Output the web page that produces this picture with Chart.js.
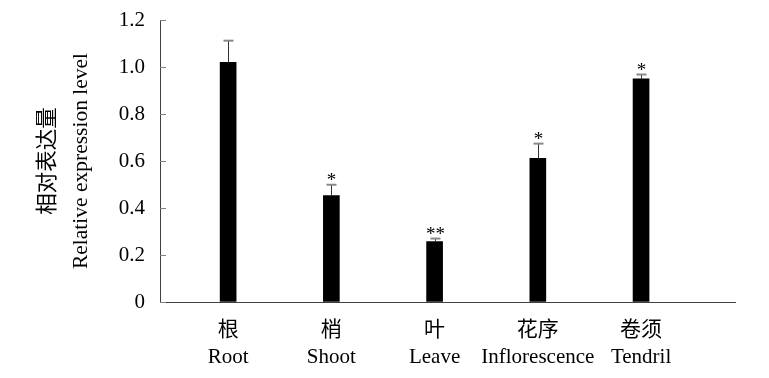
<!DOCTYPE html>
<html>
<head>
<meta charset="utf-8">
<script src="https://cdn.jsdelivr.net/npm/chart.js@4/dist/chart.umd.min.js"></script>
<style>
  html, body { margin: 0; padding: 0; background: #fff; }
  canvas { display: block; }
</style>
</head>
<body>
<canvas id="expressionChart" width="769" height="378"></canvas>
<script>
// Dữ liệu biểu đồ
const labelsCn = ['根', '梢', '叶', '花序', '卷须'];
const labelsEn = ['Root', 'Shoot', 'Leave', 'Inflorescence', 'Tendril'];
const positions = [0, 1, 2, 3, 4];
const values = [1.02, 0.453, 0.257, 0.611, 0.95];
const errors = [0.092, 0.046, 0.013, 0.063, 0.018];
const marks = ['', '*', '**', '*', '*'];
const yTicks = [0, 0.2, 0.4, 0.6, 0.8, 1.0, 1.2];

const serif = "'Liberation Serif', 'Times New Roman', 'Noto Sans CJK SC', serif";

// Vẽ thanh sai số, dấu sao và vạch chia trục y
const extrasPlugin = {
    id: 'extras',
    afterDatasetsDraw(chart) {
        const ctx = chart.ctx;
        const xs = chart.scales.x;
        const ys = chart.scales.y;
        ctx.save();
        // vạch chia trục y (hướng vào trong)
        ctx.strokeStyle = '#808080';
        ctx.lineWidth = 1;
        yTicks.forEach(v => {
            const py = Math.round(ys.getPixelForValue(v)) + 0.5;
            ctx.beginPath();
            ctx.moveTo(xs.left, py);
            ctx.lineTo(xs.left + 6, py);
            ctx.stroke();
        });
        positions.forEach((p, i) => {
            const px = Math.round(xs.getPixelForValue(p)) + 0.5;
            const top = ys.getPixelForValue(values[i]);
            const errTop = ys.getPixelForValue(values[i] + errors[i]);
            ctx.strokeStyle = '#333';
            ctx.lineWidth = 1;
            ctx.beginPath();
            ctx.moveTo(px, top);
            ctx.lineTo(px, errTop);
            ctx.stroke();
            ctx.strokeStyle = '#888';
            ctx.lineWidth = 2;
            ctx.beginPath();
            ctx.moveTo(px - 5, errTop);
            ctx.lineTo(px + 5, errTop);
            ctx.stroke();
            if (marks[i]) {
                ctx.fillStyle = '#000';
                ctx.font = '19px ' + serif;
                ctx.textAlign = 'center';
                ctx.textBaseline = 'alphabetic';
                ctx.fillText(marks[i], px, errTop + 1);
            }
        });
        ctx.restore();
    }
};

const ctx = document.getElementById('expressionChart').getContext('2d');
new Chart(ctx, {
    type: 'bar',
    data: {
        datasets: [{
            data: positions.map((p, i) => ({ x: p, y: values[i] })),
            backgroundColor: '#000',
            borderWidth: 0,
            barThickness: 16
        }]
    },
    options: {
        responsive: false,
        animation: false,
        layout: { padding: { top: 20, right: 34, left: 0, bottom: 0 } },
        plugins: {
            legend: { display: false },
            tooltip: { enabled: false }
        },
        scales: {
            x: {
                type: 'linear',
                offset: false,
                min: -0.66,
                max: 4.91,
                afterBuildTicks: scale => { scale.ticks = positions.map(v => ({ value: v })); },
                afterFit: scale => {
                    scale.height = 76;
                    scale.paddingLeft = 0;
                    scale.paddingRight = 0;
                },
                grid: { drawOnChartArea: false, drawTicks: false, offset: false },
                border: { color: '#404040', width: 1 },
                ticks: {
                    autoSkip: false,
                    maxRotation: 0,
                    padding: 15,
                    color: '#000',
                    font: { family: serif, size: 21, lineHeight: '27px' },
                    callback: v => [labelsCn[v], labelsEn[v]]
                }
            },
            y: {
                min: 0,
                max: 1.2,
                afterBuildTicks: scale => { scale.ticks = yTicks.map(v => ({ value: v })); },
                afterFit: scale => {
                    scale.width = 160;
                    scale.paddingTop = 0;
                    scale.paddingBottom = 0;
                },
                grid: { drawOnChartArea: false, drawTicks: false },
                border: { color: '#404040', width: 1 },
                ticks: {
                    padding: 15,
                    color: '#000',
                    font: { family: serif, size: 21 },
                    callback: v => v === 0 ? '0' : v.toFixed(1)
                },
                title: {
                    display: true,
                    text: ['相对表达量', 'Relative expression level'],
                    color: '#000',
                    font: { family: serif, size: 21.5, lineHeight: '33px' },
                    padding: { top: 32, bottom: 0 }
                }
            }
        }
    },
    plugins: [extrasPlugin]
});
</script>
</body>
</html>
